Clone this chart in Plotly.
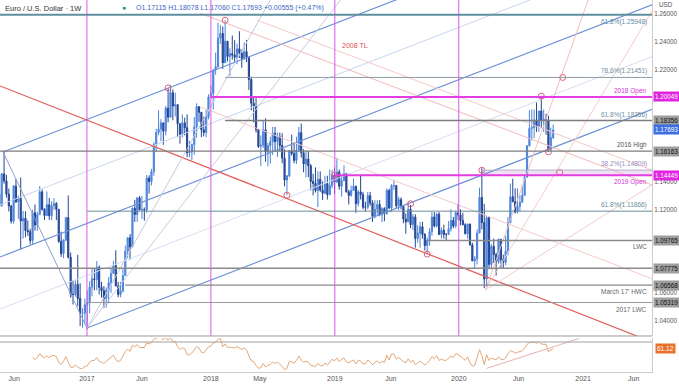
import numpy as np
import pandas as pd
import plotly.graph_objects as go

# ---------------- data (weekly EUR/USD) ----------------
first_open = 1.1310
last_open = 1.17115
close = [
    # 2016 (from Apr 18)
    1.1225, 1.1454, 1.1403, 1.1309, 1.1223, 1.1115, 1.1367, 1.1254, 1.1278, 1.1116, 1.1136, 1.1048, 1.1040,
    1.0976, 1.1175, 1.1087, 1.1162, 1.1325, 1.1200, 1.1155, 1.1233, 1.1154, 1.1226, 1.1242, 1.1200, 1.0970,
    1.0882, 1.0980, 1.1140, 1.0857, 1.0590, 1.0590, 1.0663, 1.0562, 1.0454, 1.0456, 1.0516,
    # 2017
    1.0532, 1.0642, 1.0702, 1.0697, 1.0784, 1.0640, 1.0617, 1.0560, 1.0620, 1.0673, 1.0740, 1.0798, 1.0650,
    1.0590, 1.0615, 1.0725, 1.0900, 1.0996, 1.0930, 1.1208, 1.1163, 1.1282, 1.1197, 1.1198, 1.1195, 1.1424,
    1.1398, 1.1470, 1.1665, 1.1750, 1.1775, 1.1820, 1.1760, 1.1925, 1.1860, 1.2036, 1.1940, 1.1950, 1.1814,
    1.1735, 1.1820, 1.1785, 1.1605, 1.1610, 1.1665, 1.1790, 1.1935, 1.1895, 1.1770, 1.1750, 1.1860, 1.2005,
    # 2018
    1.2030, 1.2200, 1.2222, 1.2426, 1.2460, 1.2250, 1.2405, 1.2295, 1.2315, 1.2305, 1.2290, 1.2350, 1.2320,
    1.2280, 1.2330, 1.2290, 1.2130, 1.1960, 1.1940, 1.1770, 1.1650, 1.1660, 1.1770, 1.1610, 1.1655, 1.1684,
    1.1745, 1.1685, 1.1720, 1.1657, 1.1566, 1.1410, 1.1440, 1.1620, 1.1600, 1.1550, 1.1625, 1.1750, 1.1605,
    1.1525, 1.1560, 1.1512, 1.1400, 1.1385, 1.1335, 1.1415, 1.1338, 1.1315, 1.1385, 1.1305, 1.1370, 1.1445,
    # 2019
    1.1395, 1.1468, 1.1365, 1.1405, 1.1455, 1.1325, 1.1300, 1.1335, 1.1365, 1.1240, 1.1325, 1.1305, 1.1215,
    1.1215, 1.1298, 1.1245, 1.1150, 1.1200, 1.1235, 1.1160, 1.1205, 1.1170, 1.1335, 1.1210, 1.1370, 1.1370,
    1.1225, 1.1270, 1.1220, 1.1130, 1.1110, 1.1200, 1.1090, 1.1145, 1.0990, 1.1030, 1.1075, 1.1020, 1.0940,
    1.0980, 1.1040, 1.1145, 1.1080, 1.1165, 1.1020, 1.1050, 1.1020, 1.1020, 1.1060, 1.1120, 1.1080, 1.1175,
    # 2020
    1.1160, 1.1120, 1.1090, 1.1025, 1.1095, 1.0945, 1.0830, 1.0845, 1.1030, 1.1285, 1.1105, 1.0700, 1.1140,
    1.0805, 1.0935, 1.0875, 1.0825, 1.0985, 1.0840, 1.0820, 1.0900, 1.1105, 1.1290, 1.1255, 1.1180, 1.1220,
    1.1250, 1.1300, 1.1430, 1.1655, 1.1780, 1.1785, 1.1840, 1.1795, 1.1905, 1.1835, 1.1845, 1.1835, 1.1630,
    1.1715, 1.17693,
]
high = [
    1.1360, 1.1460, 1.1616, 1.1446, 1.1349, 1.1232, 1.1374, 1.1416, 1.1298, 1.1428, 1.1188, 1.1186, 1.1120,
    1.1060, 1.1198, 1.1235, 1.1182, 1.1366, 1.1342, 1.1208, 1.1328, 1.1282, 1.1258, 1.1280, 1.1251, 1.1200,
    1.1040, 1.0986, 1.1146, 1.1299, 1.0890, 1.0690, 1.0690, 1.0874, 1.0670, 1.0490, 1.0560,
    1.0620, 1.0685, 1.0775, 1.0774, 1.0829, 1.0798, 1.0680, 1.0650, 1.0640, 1.0715, 1.0782, 1.0830, 1.0906,
    1.0680, 1.0680, 1.0780, 1.0940, 1.1000, 1.1023, 1.1213, 1.1268, 1.1285, 1.1296, 1.1296, 1.1213, 1.1445,
    1.1444, 1.1490, 1.1680, 1.1777, 1.1910, 1.1846, 1.1800, 1.1940, 1.2070, 1.2092, 1.2060, 1.2035, 1.1950,
    1.1790, 1.1880, 1.1857, 1.1880, 1.1690, 1.1670, 1.1861, 1.1960, 1.1940, 1.1896, 1.1863, 1.1915, 1.2023,
    1.2089, 1.2200, 1.2323, 1.2537, 1.2520, 1.2510, 1.2555, 1.2400, 1.2355, 1.2445, 1.2412, 1.2388, 1.2476,
    1.2345, 1.2395, 1.2414, 1.2253, 1.2150, 1.1997, 1.1996, 1.1775, 1.1730, 1.1840, 1.1852, 1.1676, 1.1720,
    1.1790, 1.1790, 1.1750, 1.1750, 1.1745, 1.1630, 1.1445, 1.1625, 1.1735, 1.1680, 1.1720, 1.1790, 1.1815,
    1.1630, 1.1620, 1.1620, 1.1525, 1.1455, 1.1500, 1.1472, 1.1472, 1.1400, 1.1440, 1.1440, 1.1485, 1.1480,
    1.1500, 1.1570, 1.1485, 1.1440, 1.1515, 1.1450, 1.1340, 1.1370, 1.1420, 1.1370, 1.1340, 1.1448, 1.1325,
    1.1255, 1.1325, 1.1325, 1.1265, 1.1265, 1.1265, 1.1265, 1.1215, 1.1215, 1.1350, 1.1347, 1.1380, 1.1412,
    1.1365, 1.1290, 1.1285, 1.1230, 1.1170, 1.1250, 1.1230, 1.1165, 1.1165, 1.1085, 1.1110, 1.1110, 1.1030,
    1.0998, 1.1065, 1.1180, 1.1180, 1.1175, 1.1180, 1.1070, 1.1090, 1.1030, 1.1115, 1.1200, 1.1145, 1.1190,
    1.1240, 1.1200, 1.1175, 1.1100, 1.1095, 1.1095, 1.0960, 1.0865, 1.1055, 1.1355, 1.1495, 1.1240, 1.1150,
    1.1150, 1.0950, 1.0990, 1.0890, 1.0990, 1.0975, 1.0875, 1.1010, 1.1145, 1.1385, 1.1420, 1.1350, 1.1350,
    1.1300, 1.1375, 1.1450, 1.1660, 1.1910, 1.1915, 1.1915, 1.1965, 1.1905, 1.2011, 1.1915, 1.1885, 1.1870,
    1.1785, 1.18078,
]
low = [
    1.1215, 1.1218, 1.1384, 1.1284, 1.1184, 1.1098, 1.1097, 1.1245, 1.1132, 1.0912, 1.0990, 1.1000, 1.1010,
    1.0950, 1.0952, 1.1047, 1.1046, 1.1165, 1.1190, 1.1123, 1.1151, 1.1124, 1.1122, 1.1194, 1.1122, 1.0960,
    1.0859, 1.0850, 1.0971, 1.0848, 1.0567, 1.0518, 1.0573, 1.0505, 1.0364, 1.0352, 1.0376,
    1.0340, 1.0454, 1.0577, 1.0620, 1.0620, 1.0589, 1.0567, 1.0493, 1.0495, 1.0525, 1.0600, 1.0740, 1.0650,
    1.0570, 1.0570, 1.0604, 1.0821, 1.0850, 1.0838, 1.0927, 1.1110, 1.1110, 1.1193, 1.1131, 1.1118, 1.1175,
    1.1313, 1.1370, 1.1440, 1.1612, 1.1730, 1.1688, 1.1662, 1.1730, 1.1823, 1.1870, 1.1838, 1.1866, 1.1717,
    1.1670, 1.1715, 1.1730, 1.1574, 1.1573, 1.1554, 1.1590, 1.1713, 1.1826, 1.1717, 1.1723, 1.1717, 1.1845,
    1.1995, 1.1915, 1.2165, 1.2215, 1.2385, 1.2206, 1.2260, 1.2260, 1.2154, 1.2272, 1.2257, 1.2240, 1.2284,
    1.2215, 1.2270, 1.2255, 1.2055, 1.1910, 1.1823, 1.1750, 1.1640, 1.1510, 1.1640, 1.1541, 1.1508, 1.1527,
    1.1590, 1.1615, 1.1575, 1.1615, 1.1530, 1.1365, 1.1301, 1.1430, 1.1585, 1.1530, 1.1525, 1.1610, 1.1570,
    1.1465, 1.1430, 1.1430, 1.1336, 1.1300, 1.1320, 1.1216, 1.1325, 1.1267, 1.1310, 1.1270, 1.1300, 1.1350,
    1.1310, 1.1390, 1.1340, 1.1290, 1.1405, 1.1320, 1.1235, 1.1290, 1.1350, 1.1175, 1.1220, 1.1270, 1.1200,
    1.1185, 1.1200, 1.1225, 1.1110, 1.1135, 1.1160, 1.1150, 1.1107, 1.1115, 1.1160, 1.1200, 1.1180, 1.1340,
    1.1205, 1.1195, 1.1200, 1.1100, 1.1025, 1.1140, 1.1065, 1.1050, 1.0925, 1.0960, 1.0925, 1.0990, 1.0905,
    1.0879, 1.0940, 1.1010, 1.1070, 1.1070, 1.1015, 1.0990, 1.0990, 1.0980, 1.1020, 1.1040, 1.1065, 1.1065,
    1.1125, 1.1085, 1.1085, 1.1020, 1.0990, 1.0940, 1.0830, 1.0778, 1.0805, 1.1030, 1.1055, 1.0635, 1.0636,
    1.0770, 1.0770, 1.0815, 1.0725, 1.0810, 1.0780, 1.0775, 1.0800, 1.0870, 1.1100, 1.1250, 1.1170, 1.1170,
    1.1185, 1.1260, 1.1300, 1.1430, 1.1650, 1.1695, 1.1710, 1.1755, 1.1755, 1.1785, 1.1755, 1.1735, 1.1612,
    1.1620, 1.17060,
]

# horizontal levels: price, start date, colour, width, label, label side, label colour
levels = [
    (1.25948, "2016-04-18", "#5f8f9f", 2.0, "61.8%(1.25948)", "below", "#5f8f9f"),
    (1.21451, "2018-02-12", "#8d9ba8", 1.0, "78.6%(1.21451)", "above", "#6f8f9f"),
    (1.20049, "2018-01-01", "#e23ce2", 2.0, "2018 Open", "above", "#d633d6"),
    (1.18356, "2018-02-12", "#7d7d7d", 1.5, "61.8%(1.18356)", "above", "#6f8f9f"),
    (1.16163, "2016-04-18", "#7d7d7d", 1.2, "2016 High", "above", "#555555"),
    (1.14809, "2020-03-09", "#b3b3c6", 1.0, "38.2%(1.14809)", "above", "#9a8ac0"),
    (1.14449, "2019-01-01", "#e23ce2", 2.0, "2019 Open", "below", "#d633d6"),
    (1.11866, "2017-01-02", "#6a8a9a", 1.0, "61.8%(1.11866)", "above", "#5f8f9f"),
    (1.09765, "2019-09-30", "#8a8a8a", 1.5, "LWC", "below", "#666666"),
    (1.07775, "2016-04-18", "#8a8a8a", 1.5, "", "", "#666666"),
    (1.06568, "2017-04-24", "#8a8a8a", 1.2, "March 17' HWC", "below", "#666666"),
    (1.05319, "2017-01-02", "#9a9a9a", 1.0, "2017 LWC", "below", "#666666"),
]
price_boxes = [
    (1.20049, "#e023e0", "white"),
    (1.18356, "#9e9e9e", "#111111"),
    (1.17693, "#3b6fe0", "white"),
    (1.16163, "#9e9e9e", "#111111"),
    (1.14449, "#e023e0", "white"),
    (1.09765, "#9e9e9e", "#111111"),
    (1.07775, "#9e9e9e", "#111111"),
    (1.06568, "#9e9e9e", "#111111"),
    (1.05319, "#9e9e9e", "#111111"),
]
tick_vals = [1.04, 1.06, 1.12, 1.14, 1.22, 1.24, 1.26]
year_lines = ["2017-01-01", "2018-01-01", "2019-01-01", "2020-01-01"]
xtick_dates = ["2016-06-01", "2017-01-01", "2017-06-12", "2018-01-01", "2018-05-25", "2019-01-01",
               "2019-06-15", "2020-01-01", "2020-06-25", "2021-01-01", "2021-05-30"]
xtick_text = ["Jun", "2017", "Jun", "2018", "May", "2019", "Jun", "2020", "Jun", "2021", "Jun"]

# drawn trendlines: (date0, price0, date1, price1, colour, width)
trendlines = [
    ("2017-01-01", 1.0349, "2021-07-23", 1.1917, "#6f93d8", 1.2),   # lower channel
    ("2016-04-20", 1.0858, "2021-07-23", 1.2665, "#6f93d8", 1.2),   # median
    ("2016-04-29", 1.1611, "2021-07-23", 1.3411, "#6f93d8", 1.2),   # upper
    ("2016-04-20", 1.1231, "2021-07-23", 1.3039, "#c9d5ee", 1.0),
    ("2016-04-20", 1.0485, "2021-07-23", 1.2294, "#d6def2", 1.0),
    ("2016-04-20", 1.2084, "2021-07-23", 1.0249, "#e25f5a", 1.2),   # 2008 TL
    ("2017-12-01", 1.2604, "2021-07-23", 1.1374, "#f2b9b9", 1.0),
    ("2018-05-16", 1.2557, "2021-07-23", 1.1481, "#f5caca", 1.0),
    ("2017-11-30", 1.1935, "2021-07-23", 1.0703, "#f5caca", 1.0),
    ("2016-04-29", 1.1611, "2017-01-01", 1.0349, "#8f9fcf", 1.0),
    ("2017-01-01", 1.0349, "2019-01-18", 1.2700, "#cfc8e0", 1.0),
    ("2017-01-01", 1.0349, "2018-06-25", 1.2700, "#c8c8dc", 1.0),
    ("2020-03-20", 1.0622, "2021-01-16", 1.2700, "#f0c0c0", 1.0),
    ("2020-03-20", 1.0622, "2021-07-23", 1.2621, "#f3cccc", 1.0),
    ("2020-03-20", 1.0622, "2021-07-23", 1.1374, "#f3cccc", 1.0),
]
pivot_dates = ["2017-08-28", "2018-02-12", "2018-08-13", "2019-01-01", "2019-08-12", "2019-09-30",
               "2020-03-09", "2020-08-31", "2020-09-21", "2020-10-24", "2020-11-02"]
pivot_prices = [1.2070, 1.2555, 1.1301, 1.1445, 1.1240, 1.0879, 1.1480, 1.2011, 1.1612, 1.1465, 1.2145]

rsi_line = ("2020-03-23", 33.0, "2020-12-20", 75.0)

# ---------------- build ----------------
n = min(len(close), len(high), len(low))
dates = pd.date_range("2016-04-18", periods=n, freq="W-MON")
c = list(close[:n])
o = [first_open] + c[:-1]
o[-1] = last_open
h = [max(a, b, d) for a, b, d in zip(high[:n], o, c)]
l = [min(a, b, d) for a, b, d in zip(low[:n], o, c)]

# RSI(14) Wilder
ca = np.array(c)
diff = np.diff(ca)
gain = np.where(diff > 0, diff, 0.0)
loss = np.where(diff < 0, -diff, 0.0)
P = 14
rsi = [None] * n
ag = gain[:P].mean()
al = loss[:P].mean()
rsi[P] = 100 - 100 / (1 + ag / al)
for i in range(P + 1, n):
    ag = (ag * (P - 1) + gain[i - 1]) / P
    al = (al * (P - 1) + loss[i - 1]) / P
    rsi[i] = 100 - 100 / (1 + ag / al)

X_END = "2021-07-23"
FONT = "Liberation Sans"
PRICE_BOTTOM = 0.0992

fig = go.Figure()
for d0, p0, d1, p1, col, w in trendlines:
    fig.add_trace(go.Scatter(x=[d0, d1], y=[p0, p1], mode="lines", line=dict(color=col, width=w),
                             hoverinfo="skip", showlegend=False, xaxis="x", yaxis="y"))

fig.add_trace(go.Candlestick(
    x=dates, open=o, high=h, low=l, close=c,
    increasing=dict(line=dict(color="#4d84dc", width=1), fillcolor="#5b8fe3"),
    decreasing=dict(line=dict(color="#23458f", width=1), fillcolor="#2c52a3"),
    whiskerwidth=0, showlegend=False, xaxis="x", yaxis="y"))

fig.add_trace(go.Scatter(x=pivot_dates, y=pivot_prices, mode="markers",
                         marker=dict(symbol="circle-open", size=6, color="#e0607a", line=dict(width=1)),
                         showlegend=False, hoverinfo="skip", xaxis="x", yaxis="y"))

fig.add_trace(go.Scatter(x=dates, y=rsi, mode="lines", line=dict(color="#e3a878", width=1),
                         showlegend=False, xaxis="x", yaxis="y2"))
fig.add_trace(go.Scatter(x=[rsi_line[0], rsi_line[2]], y=[rsi_line[1], rsi_line[3]], mode="lines",
                         line=dict(color="#eab0b0", width=1), showlegend=False, xaxis="x", yaxis="y2"))

shapes = []
shapes.append(dict(type="rect", xref="x", yref="y", x0="2020-03-09", x1=X_END, y0=1.14449, y1=1.14809,
                   fillcolor="rgba(215,160,230,0.30)", line=dict(width=0), layer="below"))
for yd in year_lines:
    shapes.append(dict(type="line", xref="x", yref="paper", x0=yd, x1=yd, y0=PRICE_BOTTOM, y1=1,
                       line=dict(color="#dd55ee", width=1)))
annotations = []
for p, d0, col, w, lab, side, tcol in levels:
    shapes.append(dict(type="line", xref="x", yref="y", x0=d0, x1=X_END, y0=p, y1=p,
                       line=dict(color=col, width=w)))
    if lab:
        annotations.append(dict(xref="paper", yref="y", x=0.995, y=p, text=lab, showarrow=False,
                                xanchor="right", yanchor="bottom" if side == "above" else "top",
                                yshift=0 if side == "above" else -1,
                                font=dict(size=6.5, color=tcol, family=FONT)))
shapes.append(dict(type="line", xref="paper", yref="paper", x0=0, x1=1, y0=PRICE_BOTTOM, y1=PRICE_BOTTOM,
                   line=dict(color="#9a9a9a", width=1)))
shapes.append(dict(type="line", xref="x", yref="y2", x0="2016-04-18", x1=X_END, y0=70, y1=70,
                   line=dict(color="#a0a0a0", width=1)))

for p, bg, fc in price_boxes:
    annotations.append(dict(xref="paper", yref="y", x=1.0, y=p, text=f"{p:.5f}", showarrow=False,
                            xanchor="left", yanchor="middle", xshift=1, bgcolor=bg, borderpad=1,
                            font=dict(size=6.3, color=fc, family=FONT)))
annotations.append(dict(xref="paper", yref="y2", x=1.0, y=61.12, text="61.12", showarrow=False,
                        xanchor="left", yanchor="middle", xshift=3, bgcolor="#e8712b", borderpad=1,
                        font=dict(size=6.5, color="white", family=FONT)))
annotations.append(dict(xref="x", yref="y", x="2019-03-01", y=1.2371, text="2008 TL", showarrow=False,
                        font=dict(size=7, color="#e05050", family=FONT)))
annotations.append(dict(xref="paper", yref="paper", x=0.004, y=1.0, yshift=-2, text="Euro / U.S. Dollar · 1W",
                        showarrow=False, xanchor="left", yanchor="top",
                        font=dict(size=7.5, color="#333333", family=FONT)))
annotations.append(dict(xref="paper", yref="paper", x=0.19, y=1.0, yshift=-2, text="●",
                        showarrow=False, xanchor="center", yanchor="top",
                        font=dict(size=7, color="#1f8f7a", family=FONT)))
annotations.append(dict(xref="paper", yref="paper", x=0.205, y=1.0, yshift=-2,
                        text="O1.17115 H1.18078 L1.17060 C1.17693 +0.00555 (+0.47%)",
                        showarrow=False, xanchor="left", yanchor="top",
                        font=dict(size=7, color="#3a66c4", family=FONT)))
annotations.append(dict(xref="paper", yref="paper", x=1.0, y=1.0, xshift=14, yshift=1, text="USD",
                        showarrow=False, xanchor="center", yanchor="top",
                        font=dict(size=6.3, color="#555555", family=FONT)))

fig.update_layout(
    width=679, height=386, margin=dict(l=0, r=27, t=0, b=13, pad=0),
    paper_bgcolor="white", plot_bgcolor="white", showlegend=False,
    font=dict(family=FONT, size=7, color="#555555"),
    xaxis=dict(type="date", range=["2016-04-20", X_END], domain=[0, 1], showgrid=False, zeroline=False,
               rangeslider=dict(visible=False), tickvals=xtick_dates, ticktext=xtick_text,
               tickfont=dict(size=7, color="#555555"), ticks="", showline=True, linecolor="#cccccc",
               anchor="y2", automargin=False),
    yaxis=dict(domain=[PRICE_BOTTOM, 1], range=[1.0292, 1.2700], side="right", showgrid=False, zeroline=False,
               tickvals=tick_vals, ticktext=[f"{v:.5f}" for v in tick_vals],
               tickfont=dict(size=6.3, color="#555555"), ticks="", showline=True, linecolor="#cccccc",
               anchor="x", automargin=False),
    yaxis2=dict(domain=[0.0027, 0.0938], range=[28, 75.6], side="right", showgrid=False, zeroline=False,
                showticklabels=False, ticks="", showline=True, linecolor="#cccccc", anchor="x",
                automargin=False),
    shapes=shapes, annotations=annotations,
)
fig.write_html("out.html", config={"displayModeBar": False},
               post_script="document.body.style.margin='0px';document.body.style.overflow='hidden';")
